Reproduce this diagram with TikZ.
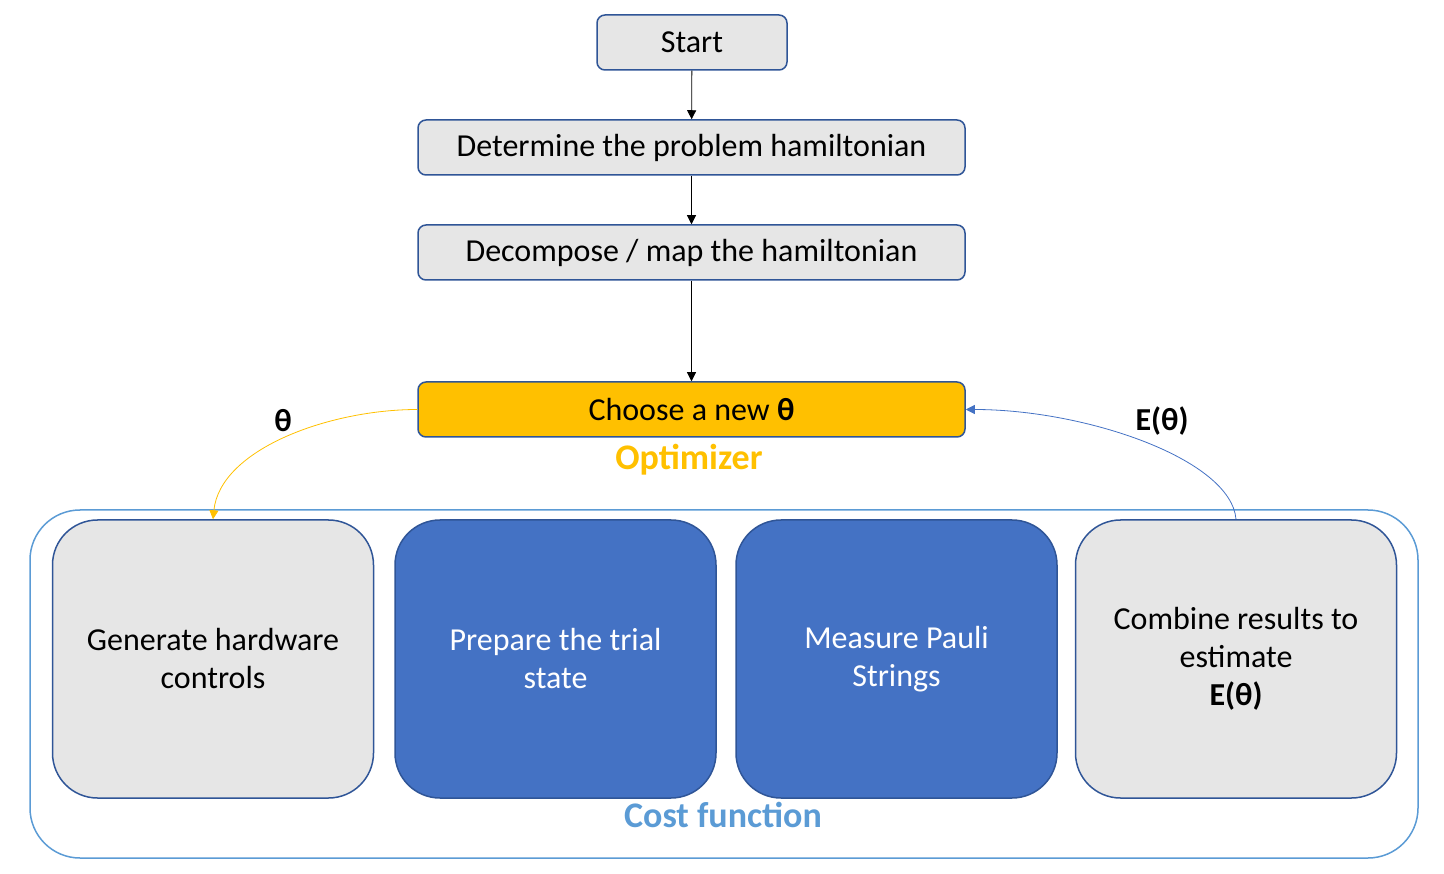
\documentclass[tikz,border=0pt]{standalone}
\usepackage{fontspec}
\setmainfont{Carlito}
\usetikzlibrary{arrows.meta}
\definecolor{boxgray}{HTML}{E6E6E6}
\definecolor{boxline}{HTML}{2F5597}
\definecolor{boxblue}{HTML}{4472C4}
\definecolor{optorange}{HTML}{FFC000}
\definecolor{costblue}{HTML}{5B9BD5}
\begin{document}
\begin{tikzpicture}[x=1pt,y=-1pt,
  every node/.style={font=\fontsize{32}{38}\selectfont},
  biglabel/.style={font=\fontsize{36}{40}\selectfont\bfseries},
  stepbox/.style={draw=boxline,line width=1.5pt,fill=boxgray,rounded corners=8pt,inner sep=0pt},
  bigbox/.style={draw=boxline,line width=1.5pt,rounded corners=45pt,inner sep=0pt,minimum width=321pt,minimum height=278pt,align=center},
  conn/.style={-{Triangle[width=9pt,length=9pt]},line width=0.8pt}]
\useasboundingbox (0,0) rectangle (1444,874);
% outer cost function frame
\draw[costblue,line width=1.5pt,rounded corners=50pt] (30,510) rectangle (1418,858);
\node[stepbox,minimum width=190pt,minimum height=55pt] (start) at (692,42.5) {Start};
\node[stepbox,minimum width=547pt,minimum height=55pt] (det) at (691.5,147.5) {Determine the problem hamiltonian};
\node[stepbox,minimum width=547pt,minimum height=55pt] (dec) at (691.5,252.5) {Decompose / map the hamiltonian};
\node[stepbox,fill=optorange,minimum width=547pt,minimum height=55pt] (choose) at (691.5,409.5) {Choose a new \textbf{θ}};
\node[biglabel,text=optorange] (opt) at (689,460) {Optimizer};
\node[bigbox,fill=boxgray] (gen) at (213,659) {Generate hardware\\controls};
\node[bigbox,fill=boxblue,text=white] (prep) at (555.5,659) {Prepare the trial\\state};
\node[bigbox,fill=boxblue,text=white] (meas) at (896.5,659) {Measure Pauli\\Strings};
\node[bigbox,fill=boxgray] (comb) at (1236,659) {Combine results to\\estimate\\\textbf{E(θ)}};
\node[biglabel,text=costblue] (cost) at (723,815) {Cost function};
\node (th) at (283,421) {\textbf{θ}};
\node (eth) at (1162,421) {\textbf{E(θ)}};
\draw[conn] (start) -- (det);
\draw[conn] (det) -- (dec);
\draw[conn] (dec) -- (choose);
\draw[conn,optorange] (choose.west) .. controls +(-88,0) and +(7,-70) .. (gen.north);
\draw[conn,boxblue] (comb.north) .. controls +(-5,-60) and +(120,0) .. (choose.east);
\end{tikzpicture}
\end{document}
